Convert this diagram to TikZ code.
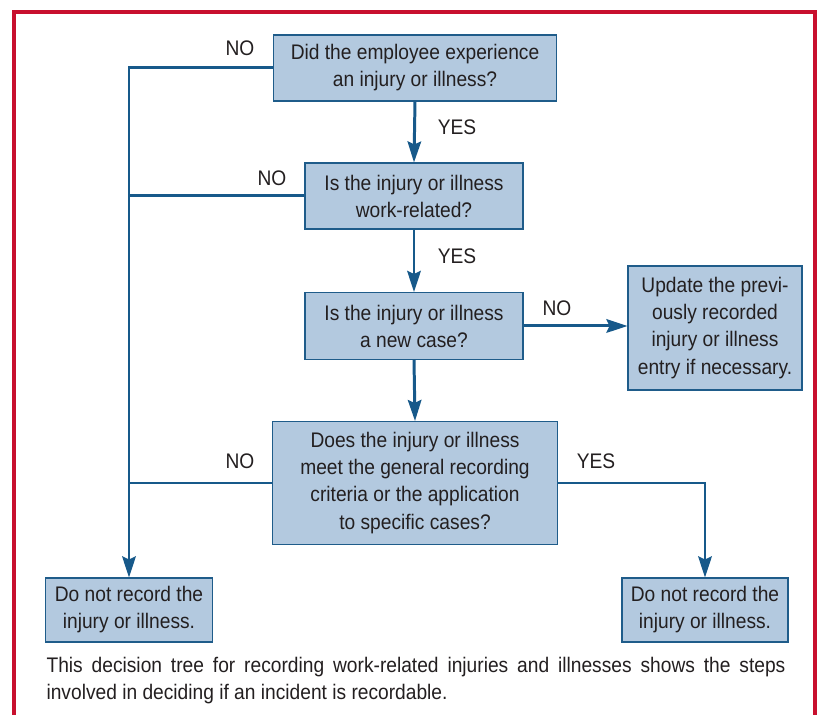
\documentclass[tikz,border=0pt]{standalone}
\usepackage{fontspec}
\setmainfont{Liberation Sans}[FakeStretch=0.91]
\usepackage{tikz}
\usetikzlibrary{arrows.meta,positioning,calc}

\definecolor{boxfill}{HTML}{B3C9DF}
\definecolor{boxline}{HTML}{1F5C8A}
\definecolor{flow}{HTML}{17598A}
\definecolor{framered}{HTML}{C8102E}
\definecolor{ink}{HTML}{231F20}

\begin{document}
\begin{tikzpicture}[
      x=0.02cm, y=-0.02cm,
      font=\fontsize{12}{15.4}\selectfont, text=ink,
      box/.style={draw=boxline, line width=0.6pt, fill=boxfill, align=center, inner sep=2pt},
      label/.style={inner sep=0pt},
      line/.style={draw=flow, line width=1.7pt},
      arrow/.style={line, -{Stealth[length=0.42cm, width=0.27cm, inset=0.06cm]}},
      frame/.style={draw=framered, line width=0.09cm}
    ]
    \useasboundingbox (0,0) rectangle (819,715);
    \draw[frame] (14,715) -- (14,12) -- (815,12) -- (815,715);

    \node[box, minimum width=5.66cm, minimum height=1.32cm] (injury) at (415,68) {Did the employee experience\\an injury or illness?};
    \node[box, minimum width=4.36cm, minimum height=1.32cm] (work) at (414,196) {Is the injury or illness\\work-related?};
    \node[box, minimum width=4.36cm, minimum height=1.34cm] (newcase) at (414,326) {Is the injury or illness\\a new case?};
    \node[box, minimum width=3.48cm, minimum height=2.48cm] (update) at (715,328) {Update the previ-\\ously recorded\\injury or illness\\entry if necessary.};
    \node[box, minimum width=5.7cm, minimum height=2.46cm] (criteria) at (415,483) {Does the injury or illness\\meet the general recording\\criteria or the application\\to specific cases?};
    \node[box, minimum width=3.34cm, minimum height=1.28cm] (norecord) at (129,610) {Do not record the\\injury or illness.};
    \node[box, minimum width=3.32cm, minimum height=1.28cm] (record) at (705,610) {Do not record the\\injury or illness.};

    \node[label] (no1) at (240,48) {NO};
    \node[label] (yes1) at (457,127) {YES};
    \node[label] (no2) at (272,178) {NO};
    \node[label] (yes2) at (457,256) {YES};
    \node[label] (no3) at (557,308) {NO};
    \node[label] (no4) at (240,461) {NO};
    \node[label] (yes4) at (596,461) {YES};

    \draw[arrow] (injury.south) -- (work.north);
    \draw[arrow] (work.south) -- (newcase.north);
    \draw[arrow] (newcase.south) -- (criteria.north);
    \draw[arrow] (newcase.east) -- (newcase.east -| update.west);
    \draw[arrow] (injury.west) -| (norecord.north);
    \draw[line] (work.west) -- (work.west -| norecord.north);
    \draw[line] (criteria.west) -- (criteria.west -| norecord.north);
    \draw[arrow] (criteria.east) -| (record.north);

    \node[align=justify, text width=14.78cm, inner sep=0pt] (caption) at (416,681)
      {This decision tree for recording work-related injuries and illnesses shows the steps\linebreak involved in deciding if an incident is recordable.};
  \end{tikzpicture}
\end{document}
